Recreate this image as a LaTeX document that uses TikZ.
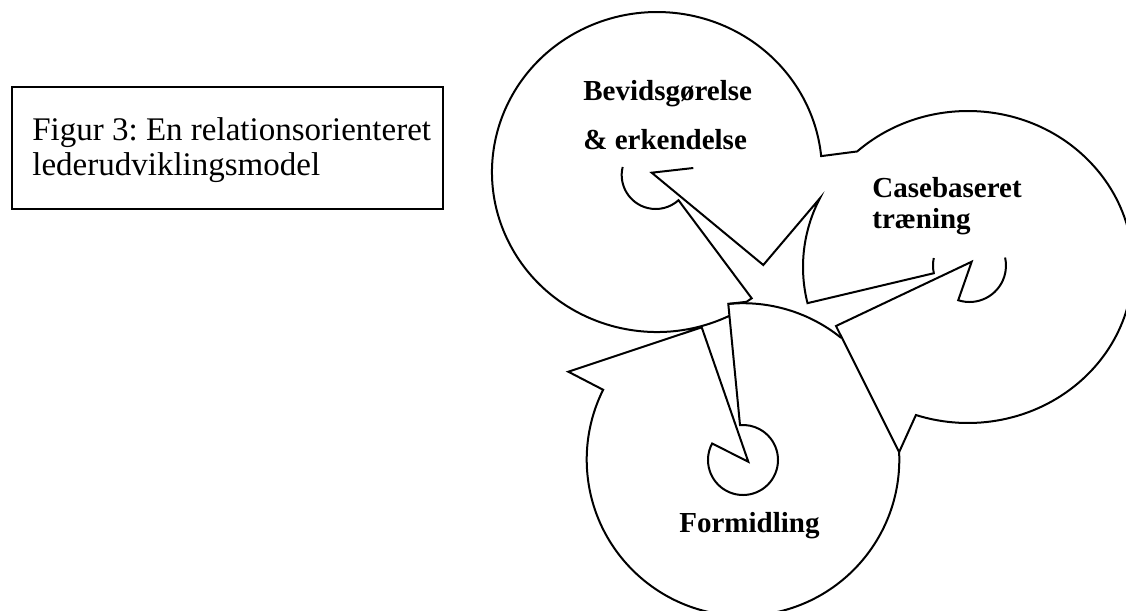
\documentclass[tikz,border=0pt]{standalone}
\usepackage{fontspec}
\setmainfont{Liberation Serif}
\usetikzlibrary{calc}
\frenchspacing
\begin{document}
\begin{tikzpicture}[x=0.5pt,y=-0.5pt,
  outline/.style={draw=black,line width=1pt,line join=miter,fill=none},
  captext/.style={inner sep=0pt,anchor=base west,font=\fontsize{16.5}{18}\selectfont},
  labeltext/.style={inner sep=0pt,anchor=base west,font=\fontsize{14.5}{16}\selectfont\bfseries}]
\useasboundingbox (0,0) rectangle (1126,611);
\clip (0,0) rectangle (1126,611);
% centres
\coordinate (cA) at (657,172);
\coordinate (cC) at (968,267);
\coordinate (cF) at (743,459.5);
\coordinate (sA) at (655.7,175);
\coordinate (sC) at (969.5,265.5);
\coordinate (sF) at (743,460);
\coordinate (tA) at (651.7,172.7);
\coordinate (tC) at (971.7,261.7);
\coordinate (tF) at (748.3,461.7);
% caption box
\draw[line width=1pt] (11.5,87) rectangle (443,209);
\node[captext] (cap1) at (32,140) {Figur 3: En relationsorienteret};
\node[captext] (cap2) at (32,175) {lederudviklingsmodel};
% main outline
\draw[outline] ($(cA)+(64:165 and 160)$) arc[start angle=64, end angle=354.3, x radius=165, y radius=160]
  -- ($(cC)+(227.8:165 and 156)$) arc[start angle=227.8, end angle=468.4, x radius=165, y radius=156]
  -- ($(cF)+(-2.7:156.3 and 156.3)$) arc[start angle=-2.7, end angle=206.5, x radius=156.3, y radius=156.3]
  -- (568.3,371.7) -- (701.7,327.3) -- (tF)
  -- ($(sF)+(208.1:35 and 35)$) arc[start angle=208.1, end angle=-94.9, x radius=35, y radius=35]
  -- ($(cF)+(264.6:156.3 and 156.3)$) arc[start angle=264.6, end angle=308.9, x radius=156.3, y radius=156.3];
% tail into C
\draw[outline] ($(cF)+(-2.7:156.3 and 156.3)$) -- (836,326) -- (tC)
  -- ($(sC)+(108:36.5 and 36.5)$) arc[start angle=108, end angle=-12.6, x radius=36.5, y radius=36.5];
% tail into A
\draw[outline] ($(sC)+(191.8:36.5 and 36.5)$) arc[start angle=191.8, end angle=167.8, x radius=36.5, y radius=36.5]
  -- ($(cC)+(166.6:165 and 156)$) arc[start angle=166.6, end angle=206.1, x radius=165, y radius=156]
  -- (763.3,265) -- (tA) -- (693.3,168);
% small arc in A and tail into F
\draw[outline] ($(sA)+(193.7:34 and 34)$) arc[start angle=193.7, end angle=47.9, x radius=34, y radius=34]
  -- (751.7,298.3) -- (746.5,301.8) -- ($(cF)+(264.6:156.3 and 156.3)$);
% labels
\node[labeltext] (bev1) at (583,100) {Bevidsgørelse};
\node[labeltext] (bev2) at (583,149) {\& erkendelse};
\node[labeltext] (case1) at (872,197) {Casebaseret};
\node[labeltext] (case2) at (872,228) {træning};
\node[labeltext] (form) at (679,532) {Formidling};
\end{tikzpicture}
\end{document}
